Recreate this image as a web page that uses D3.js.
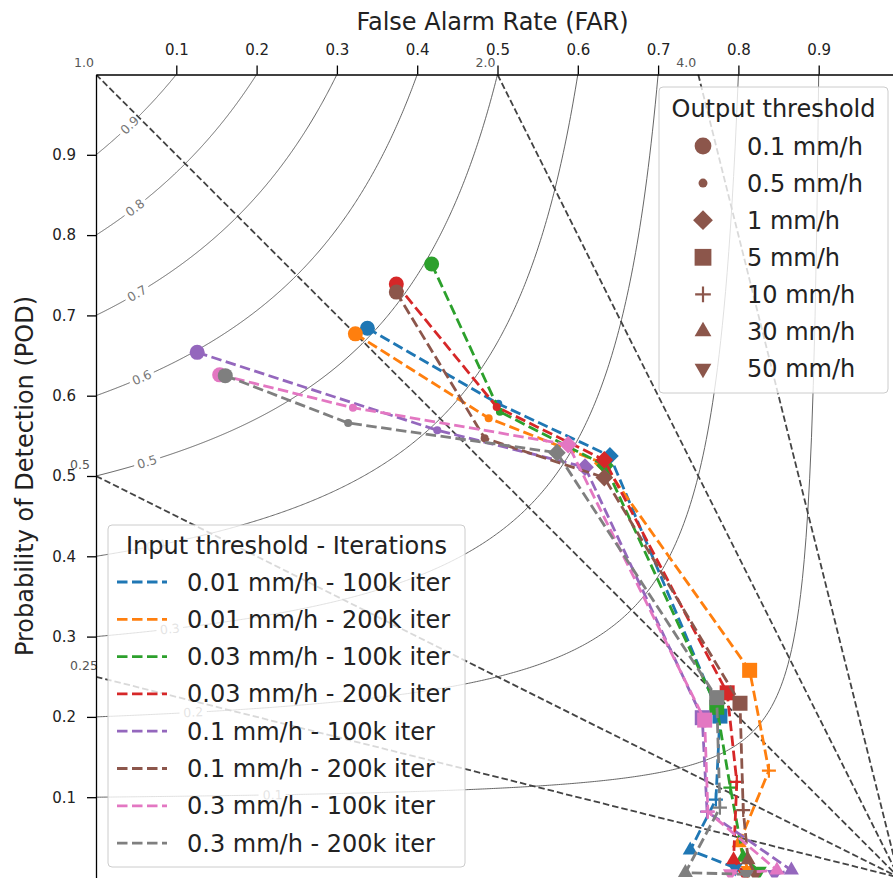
<!DOCTYPE html>
<html>
<head>
<meta charset="utf-8">
<script src="https://cdn.jsdelivr.net/npm/d3@7"></script>
<style>
body { margin: 0; background: #fff; overflow: hidden; }
text { font-family: "DejaVu Sans", sans-serif; }
</style>
</head>
<body>
<div id="svg"></div>
<script>
//input threshold - iterations, one line per entry
let inputLabels = ['0.01 mm/h - 100k iter', '0.01 mm/h - 200k iter', '0.03 mm/h - 100k iter', '0.03 mm/h - 200k iter',
  '0.1 mm/h - 100k iter', '0.1 mm/h - 200k iter', '0.3 mm/h - 100k iter', '0.3 mm/h - 200k iter'];
//output thresholds, one marker per entry
let outputLabels = ['0.1 mm/h', '0.5 mm/h', '1 mm/h', '5 mm/h', '10 mm/h', '30 mm/h', '50 mm/h'];

//FAR of each series at the 7 output thresholds
let farValues = [
  [0.338, 0.501, 0.640, 0.777, 0.772, 0.740, 0.796],
  [0.323, 0.489, 0.631, 0.814, 0.838, 0.801, 0.812],
  [0.418, 0.503, 0.634, 0.773, 0.790, 0.806, 0.826],
  [0.374, 0.499, 0.633, 0.786, 0.798, 0.794, 0.808],
  [0.126, 0.425, 0.609, 0.755, 0.761, 0.866, 0.845],
  [0.374, 0.484, 0.633, 0.802, 0.806, 0.812, 0.821],
  [0.154, 0.320, 0.588, 0.758, 0.762, 0.848, 0.790],
  [0.161, 0.314, 0.574, 0.773, 0.777, 0.734, 0.810]
];
//POD of each series at the 7 output thresholds
let podValues = [
  [0.684, 0.590, 0.525, 0.201, 0.097, 0.034, 0.012],
  [0.677, 0.572, 0.516, 0.258, 0.133, 0.043, 0.009],
  [0.764, 0.580, 0.513, 0.212, 0.112, 0.025, 0.008],
  [0.739, 0.586, 0.520, 0.230, 0.119, 0.022, 0.004],
  [0.654, 0.557, 0.511, 0.199, 0.082, 0.009, 0.004],
  [0.729, 0.547, 0.498, 0.217, 0.084, 0.022, 0.004],
  [0.626, 0.585, 0.539, 0.196, 0.082, 0.009, 0.005],
  [0.625, 0.566, 0.529, 0.224, 0.087, 0.006, 0.004]
];

let tickValues = [0.1, 0.2, 0.3, 0.4, 0.5, 0.6, 0.7, 0.8, 0.9];
let csiLevels = [0.1, 0.2, 0.3, 0.4, 0.5, 0.6, 0.7, 0.8, 0.9];
let biasLevels = [0.25, 0.5, 1, 2, 4];
let biasLabels = ['0.25', '0.5', '1.0', '2.0', '4.0'];

//styles
let colors = ['#1f77b4', '#ff7f0e', '#2ca02c', '#d62728', '#9467bd', '#8c564b', '#e377c2', '#7f7f7f'];
let markerKinds = ['circle', 'dot', 'diamond', 'square', 'plus', 'up', 'down'];
//where the CSI labels sit along each curve (FAR)
let csiLabelFar = [0.22, 0.121, 0.092, 0.075, 0.0635, 0.057, 0.051, 0.0486, 0.042];

//dimensions
let w = 893;
let h = 878;
let plotLeft = 96, plotTop = 74.5, size = 803;

let svg = d3.select('#svg').
append('svg').
attr('width', w).
attr('height', h);

let xScale = d3.scaleLinear().domain([0, 1]).range([plotLeft, plotLeft + size]);
let yScale = d3.scaleLinear().domain([0, 1]).range([plotTop + size, plotTop]);

svg.append('clipPath').attr('id', 'plot').
append('rect').attr('x', plotLeft).attr('y', plotTop).attr('width', size).attr('height', size);

let plot = svg.append('g').attr('clip-path', 'url(#plot)');

//CSI curves
function csiPod(c, far) {
  return 1 / (1 / c + 1 - 1 / (1 - far));
}
csiLevels.forEach((c, i) => {
  let end = 1 - c;
  let pts = d3.range(0, 401).map(k => end * k / 400).map(f => [xScale(f), yScale(Math.min(1, csiPod(c, f)))]);
  let lf = csiLabelFar[i];
  let lx = xScale(lf), ly = yScale(csiPod(c, lf));
  let a = [xScale(lf - 0.002), yScale(csiPod(c, lf - 0.002))];
  let b = [xScale(lf + 0.002), yScale(csiPod(c, lf + 0.002))];
  let ang = Math.atan2(b[1] - a[1], b[0] - a[0]) * 180 / Math.PI;
  let r = 13;
  let before = pts.filter(p => p[0] < lx && Math.hypot(p[0] - lx, p[1] - ly) > r);
  let after = pts.filter(p => p[0] > lx && Math.hypot(p[0] - lx, p[1] - ly) > r);
  [before, after].forEach(seg => {
    plot.append('path').
    attr('d', d3.line()(seg)).
    attr('fill', 'none').
    attr('stroke', '#555').
    attr('stroke-width', 0.9);
  });
  plot.append('text').
  text(d3.format('.1f')(c)).
  attr('transform', 'translate(' + lx + ',' + ly + ') rotate(' + ang + ')').
  attr('text-anchor', 'middle').
  attr('dy', '0.35em').
  attr('font-size', 12.5).
  attr('fill', '#777');
});

//frequency bias lines
biasLevels.forEach((b, i) => {
  let start = b >= 1 ? [1 - 1 / b, 1] : [0, b];
  plot.append('line').
  attr('x1', xScale(start[0])).attr('y1', yScale(start[1])).
  attr('x2', xScale(1)).attr('y2', yScale(0)).
  attr('stroke', '#444').
  attr('stroke-width', 1.8).
  attr('stroke-dasharray', '6.5,3');
  let t = svg.append('text').
  text(biasLabels[i]).
  attr('font-size', 12.5).
  attr('fill', '#555');
  if (b >= 1) {
    t.attr('x', xScale(start[0]) - 2).attr('y', 66.5).attr('text-anchor', 'end');
  } else {
    t.attr('x', 70).attr('y', yScale(b) - 7).attr('text-anchor', 'start');
  }
});

//markers
function markerPath(kind, s) {
  if (kind === 'circle') return d3.symbol(d3.symbolCircle, Math.PI * Math.pow(7.5 * s, 2))();
  if (kind === 'dot') return d3.symbol(d3.symbolCircle, Math.PI * Math.pow(4 * s, 2))();
  if (kind === 'diamond') return d3.symbol(d3.symbolSquare, Math.pow(12.5 * s, 2))();
  if (kind === 'square') return d3.symbol(d3.symbolSquare, Math.pow(15 * s, 2))();
  if (kind === 'plus') {
    let r = 7 * s;
    return 'M' + (-r) + ',0H' + r + 'M0,' + (-r) + 'V' + r;
  }
  let side = 15 * s;
  return d3.symbol(d3.symbolTriangle, Math.sqrt(3) / 4 * side * side)();
}
function drawMarker(g, kind, x, y, color, s) {
  let rot = kind === 'diamond' ? 45 : kind === 'down' ? 180 : 0;
  let p = g.append('path').
  attr('d', markerPath(kind, s)).
  attr('transform', 'translate(' + x + ',' + y + ') rotate(' + rot + ')');
  if (kind === 'plus') {
    p.attr('fill', 'none').attr('stroke', color).attr('stroke-width', 2.2);
  } else {
    p.attr('fill', color);
  }
}

//series
let line = d3.line().x(d => xScale(d[0])).y(d => yScale(d[1]));
farValues.forEach((fars, i) => {
  let pts = fars.map((f, j) => [f, podValues[i][j]]);
  plot.append('path').
  attr('d', line(pts)).
  attr('fill', 'none').
  attr('stroke', colors[i]).
  attr('stroke-width', 2.8).
  attr('stroke-dasharray', '10.5,4.5');
  pts.forEach((p, j) => drawMarker(plot, markerKinds[j], xScale(p[0]), yScale(p[1]), colors[i], 1));
});

//axes
let xAxis = d3.axisTop(xScale).tickValues(tickValues).tickFormat(d3.format('.1f')).tickSize(9).tickSizeOuter(0).tickPadding(11);
let yAxis = d3.axisLeft(yScale).tickValues(tickValues).tickFormat(d3.format('.1f')).tickSize(9).tickSizeOuter(0).tickPadding(11);

let gx = svg.append('g').attr('transform', 'translate(0,' + plotTop + ')').call(xAxis);
let gy = svg.append('g').attr('transform', 'translate(' + plotLeft + ',0)').call(yAxis);
[gx, gy].forEach(g => {
  g.selectAll('path, line').attr('stroke', '#000').attr('stroke-width', 1.3);
  g.selectAll('text').attr('font-size', 15).attr('fill', '#222').attr('font-family', '"DejaVu Sans", sans-serif');
});

svg.append('text').
text('False Alarm Rate (FAR)').
attr('x', plotLeft + size / 2 - 5).
attr('y', 30).
attr('text-anchor', 'middle').
attr('font-size', 24).
attr('fill', '#222');

svg.append('text').
text('Probability of Detection (POD)').
attr('transform', 'translate(33,' + (plotTop + size / 2) + ') rotate(-90)').
attr('text-anchor', 'middle').
attr('font-size', 24).
attr('fill', '#222');

//legend: output threshold
let legOut = svg.append('g');
legOut.append('rect').
attr('x', 659).attr('y', 87).attr('width', 229).attr('height', 306).attr('rx', 4).
attr('fill', '#fff').attr('fill-opacity', 0.8).
attr('stroke', '#ccc').attr('stroke-width', 1);
legOut.append('text').
text('Output threshold').
attr('x', 773.5).attr('y', 117).
attr('text-anchor', 'middle').
attr('font-size', 24).attr('fill', '#222');
outputLabels.forEach((d, j) => {
  let cy = 146 + j * 37.1;
  drawMarker(legOut, markerKinds[j], 703, cy, '#8c564b', 1.12);
  legOut.append('text').
  text(d).
  attr('x', 747).attr('y', cy + 8.5).
  attr('font-size', 24).attr('fill', '#222');
});

//legend: input threshold - iterations
let legIn = svg.append('g');
legIn.append('rect').
attr('x', 108).attr('y', 525).attr('width', 357).attr('height', 342).attr('rx', 4).
attr('fill', '#fff').attr('fill-opacity', 0.8).
attr('stroke', '#ccc').attr('stroke-width', 1);
legIn.append('text').
text('Input threshold - Iterations').
attr('x', 286.5).attr('y', 554).
attr('text-anchor', 'middle').
attr('font-size', 24).attr('fill', '#222');
inputLabels.forEach((d, i) => {
  let cy = 582 + i * 37.3;
  legIn.append('line').
  attr('x1', 117).attr('x2', 167).attr('y1', cy).attr('y2', cy).
  attr('stroke', colors[i]).
  attr('stroke-width', 2.8).
  attr('stroke-dasharray', '10.5,4.5');
  legIn.append('text').
  text(d).
  attr('x', 187).attr('y', cy + 8.5).
  attr('font-size', 24).attr('fill', '#222');
});
</script>
</body>
</html>
